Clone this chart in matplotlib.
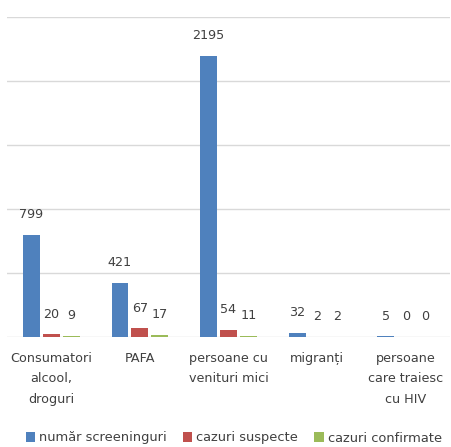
import numpy as np
import matplotlib.pyplot as plt
from matplotlib.patches import Patch

categories = ["Consumatori\nalcool,\ndroguri", "PAFA", "persoane cu\nvenituri mici",
              "migranți", "persoane\ncare traiesc\ncu HIV"]
screeninguri = [799, 421, 2195, 32, 5]
suspecte = [20, 67, 54, 2, 0]
confirmate = [9, 17, 11, 2, 0]
series_names = ["număr screeninguri", "cazuri suspecte", "cazuri confirmate"]
colors = ["#4F81BD", "#C0504D", "#9BBB59"]
txt = "#404040"

plt.rcParams['font.family'] = ['DejaVu Sans']

fig = plt.figure(figsize=(4.51, 4.47), dpi=100)
ax = fig.add_axes([7/451, 1 - 337/447, 443/451, 320/447])

x = np.arange(len(categories))
w = 0.19
off = 0.225
for i, (vals, c) in enumerate(zip([screeninguri, suspecte, confirmate], colors)):
    pos = x + (i - 1) * off
    ax.bar(pos, vals, width=w, color=c, zorder=3)
    for p, v in zip(pos, vals):
        ax.annotate(str(v), (p, v), xytext=(0, 14.5), textcoords='offset points',
                    ha='center', va='center', fontsize=9.2, color=txt)

ax.set_xlim(-0.5, 4.5)
ax.set_ylim(0, 2500)
ax.set_yticks(np.arange(0, 2501, 500))
ax.yaxis.grid(True, color="#D9D9D9", linewidth=1, zorder=0)
ax.tick_params(axis='y', left=False, labelleft=False)
ax.tick_params(axis='x', bottom=False, pad=7)
ax.set_xticks(x)
ax.set_xticklabels(categories, fontsize=9.2, color=txt, linespacing=1.75, va='top')
for s in ax.spines.values():
    s.set_visible(False)

handles = [Patch(facecolor=c, label=n) for c, n in zip(colors, series_names)]
fig.legend(handles=handles, loc='center', bbox_to_anchor=(0.518, 9/447), ncol=3,
           frameon=False, fontsize=9.4, labelcolor=txt, handlelength=0.75, handleheight=0.75,
           handletextpad=0.3, columnspacing=1.2, borderaxespad=0)

fig.savefig("out.png", dpi=100)
